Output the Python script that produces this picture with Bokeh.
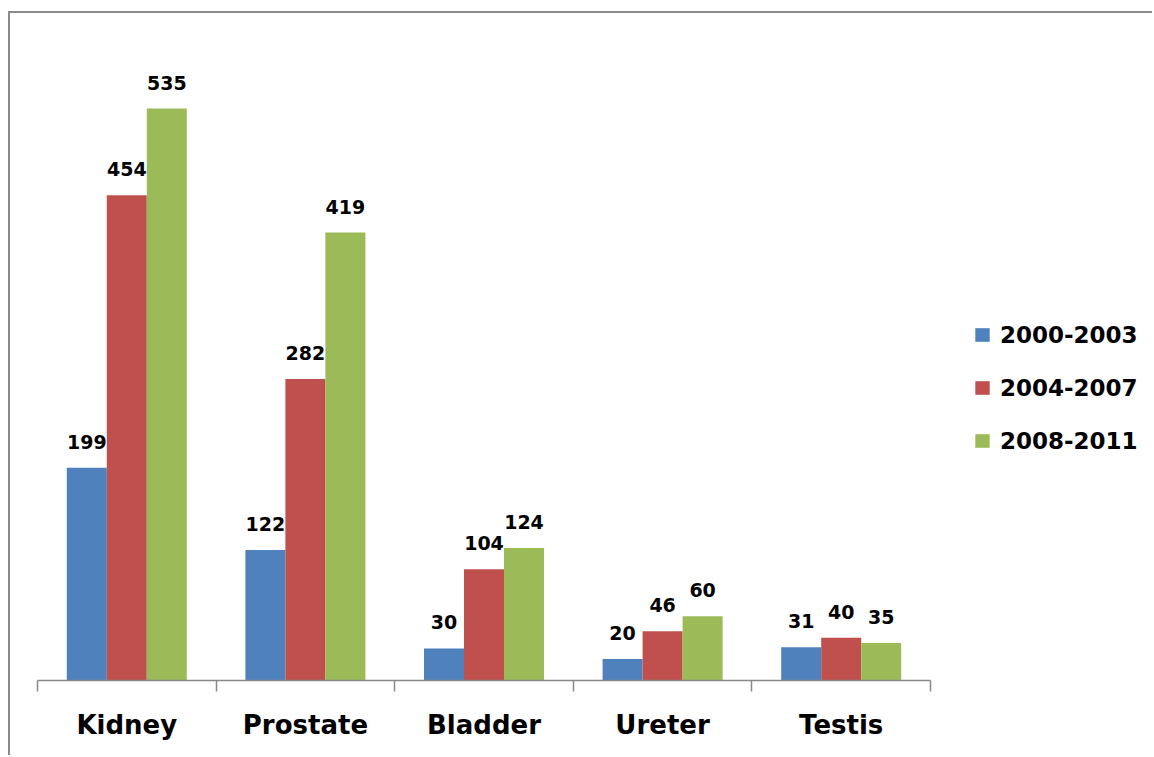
from bokeh.plotting import figure
from bokeh.models import (Range1d, LinearAxis, FixedTicker, Legend,
                          LegendItem, ColumnDataSource)
from bokeh.transform import dodge
from bokeh.core.properties import value
from bokeh.embed import file_html
from bokeh.resources import INLINE

categories = ["Kidney", "Prostate", "Bladder", "Ureter", "Testis"]
periods = ["2000-2003", "2004-2007", "2008-2011"]
v_2000_2003 = [199, 122, 30, 20, 31]
v_2004_2007 = [454, 282, 104, 46, 40]
v_2008_2011 = [535, 419, 124, 60, 35]
series = [v_2000_2003, v_2004_2007, v_2008_2011]
colors = ["#4F81BD", "#C0504D", "#9BBB59"]

FONT = "DejaVu Sans"
BAR_W = 0.224
offsets = [-BAR_W, 0.0, BAR_W]
n = len(categories)
centres = [i + 0.5 for i in range(n)]          # category slots 0..n on the x scale
X_END = n * 1117 / 893                         # room on the right for the legend

p = figure(x_range=Range1d(0, X_END), y_range=Range1d(0, 580),
           width=1144, height=744, output_backend="svg", toolbar_location=None,
           x_axis_location=None, y_axis_location=None,
           min_border_left=27, min_border_right=0,
           min_border_top=47, min_border_bottom=77)
p.styles = {"border-left": "2px solid #8a8a8a", "border-top": "2px solid #8a8a8a",
            "margin-top": "11px", "margin-left": "8px"}
p.outline_line_color = None
p.xgrid.visible = False
p.ygrid.visible = False
p.background_fill_color = "white"
p.border_fill_color = "white"

# labels at category centres, tick marks at the category boundaries
ax = LinearAxis(ticker=FixedTicker(ticks=centres, minor_ticks=list(range(n + 1))),
                major_label_overrides={c: name for c, name in zip(centres, categories)},
                bounds=(0, n))
ax.axis_line_color = "#888888"
ax.axis_line_width = 1.5
ax.major_tick_line_color = None
ax.minor_tick_line_color = "#888888"
ax.minor_tick_line_width = 1.5
ax.minor_tick_out = 11
ax.minor_tick_in = 0
ax.major_tick_out = 11
ax.major_label_standoff = 18
ax.major_label_text_font = FONT
ax.major_label_text_font_style = "bold"
ax.major_label_text_font_size = "26px"
ax.major_label_text_color = "#000000"
p.add_layout(ax, "below")

items = []
for vals, col, per, off in zip(series, colors, periods, offsets):
    src = ColumnDataSource(dict(xc=centres, cat=categories, v=vals,
                                t=[str(v) for v in vals]))
    r = p.vbar(x=dodge("xc", off), top="v", width=BAR_W,
               source=src, fill_color=col, line_color=None)
    p.text(x=dodge("xc", off), y="v", text="t", source=src,
           text_align="center", text_baseline="alphabetic", y_offset=-26,
           text_font=value(FONT), text_font_style="bold",
           text_font_size="19px", text_color="#000000")
    items.append(LegendItem(label=per, renderers=[r]))

legend = Legend(items=items, location=(936, 221), padding=0, margin=0,
                glyph_width=18, glyph_height=17, label_standoff=9,
                label_height=37, spacing=16,
                label_text_font=FONT, label_text_font_style="bold",
                label_text_font_size="23px", label_text_color="#000000",
                border_line_color=None, background_fill_alpha=0)
p.add_layout(legend, "center")

open("out.html", "w").write(file_html(p, INLINE))
